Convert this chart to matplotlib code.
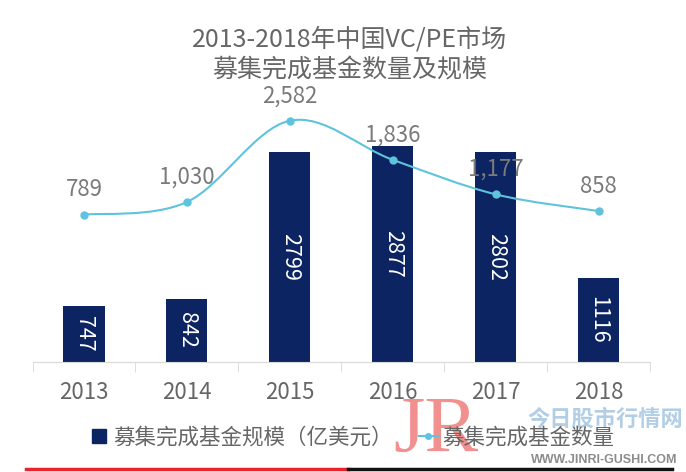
import matplotlib
matplotlib.use("Agg")
import matplotlib.pyplot as plt
import numpy as np
from matplotlib.path import Path
from matplotlib.patches import PathPatch
from matplotlib.lines import Line2D

plt.rcParams['font.family'] = ['Noto Sans CJK SC', 'DejaVu Sans']

years = ['2013', '2014', '2015', '2016', '2017', '2018']
fund_size = [747, 842, 2799, 2877, 2802, 1116]       # 亿美元
fund_count = [789, 1030, 2582, 1836, 1177, 858]
count_labels = ['789', '1,030', '2,582', '1,836', '1,177', '858']

title = '2013-2018年中国VC/PE市场\n募集完成基金数量及规模'
legend_bar = '募集完成基金规模（亿美元）'
legend_line = '募集完成基金数量'

navy = '#0c2461'
cyan = '#5ec3dd'
gray_txt = '#666666'
label_gray = '#7a7a7a'
LW = 'light'

fig = plt.figure(figsize=(6.86, 4.72), dpi=100)
W, H = 686, 472
ax_left, ax_right = 32.5, 650
ax_bottom, ax_top = 362, 20
ax = fig.add_axes([ax_left / W, 1 - ax_bottom / H, (ax_right - ax_left) / W, (ax_bottom - ax_top) / H])
ax2 = ax.twinx()

x = np.arange(len(years))
ax.bar(x, fund_size, width=0.4, color=navy, zorder=2)
ax.set_xlim(-0.5, len(years) - 0.5)
ax.set_ylim(0, (ax_bottom - ax_top) / 0.075)

for xi, v in zip(x, fund_size):
    ax.text(xi, v / 2, str(v), rotation=-90, ha='center', va='center',
            color='white', fontsize=15.5, fontweight=LW, zorder=5)

# secondary axis for count
y0_px = 256
scale2 = 0.0524
ax2.set_ylim(-(ax_bottom - y0_px) / scale2, (y0_px - ax_top) / scale2)

# smooth curve via cubic Bezier (Catmull-Rom control points)
px = list(x.astype(float))
py = list(map(float, fund_count))
verts = [(px[0], py[0])]
codes = [Path.MOVETO]
n = len(px)
for i in range(n - 1):
    p0 = (px[i - 1], py[i - 1]) if i > 0 else (px[i], py[i])
    p1 = (px[i], py[i])
    p2 = (px[i + 1], py[i + 1])
    p3 = (px[i + 2], py[i + 2]) if i + 2 < n else (px[i + 1], py[i + 1])
    c1 = (p1[0] + (p2[0] - p0[0]) / 6, p1[1] + (p2[1] - p0[1]) / 6)
    c2 = (p2[0] - (p3[0] - p1[0]) / 6, p2[1] - (p3[1] - p1[1]) / 6)
    verts += [c1, c2, p2]
    codes += [Path.CURVE4] * 3
ax2.add_patch(PathPatch(Path(verts, codes), facecolor='none', edgecolor=cyan, lw=1.5, zorder=3))
ax2.plot(x, fund_count, linestyle='none', marker='o', ms=5, color=cyan, zorder=4)

for xi, v, lab in zip(x, fund_count, count_labels):
    ax2.annotate(lab, (xi, v), xytext=(0, 18), textcoords='offset points',
                 ha='center', va='center', color=label_gray, fontsize=16, fontweight=LW)

for a in (ax, ax2):
    for s in ('top', 'right', 'left'):
        a.spines[s].set_visible(False)
    a.set_yticks([])
ax2.spines['bottom'].set_visible(False)
ax.spines['bottom'].set_color('#d9d9d9')
ax.set_xticks(x)
ax.set_xticklabels(years, fontsize=16, color=gray_txt, fontweight=LW)
ax.tick_params(axis='x', which='major', length=0, pad=14)
ax.set_xticks(np.arange(-0.5, len(years)), minor=True)
ax.tick_params(axis='x', which='minor', length=7, color='#d9d9d9')

fig.text(350 / W, 1 - 55 / H, title, ha='center', va='center', fontsize=18,
         color=gray_txt, linespacing=1.25, fontweight=LW)

handles = [Line2D([], [], linestyle='none', marker='s', ms=10, color=navy),
           Line2D([], [], color=cyan, marker='o', ms=4, lw=1.5)]
fig.legend(handles, [legend_bar, legend_line], loc='center', bbox_to_anchor=(352 / W, 1 - 438 / H),
           ncol=2, frameon=False, fontsize=15.5, labelcolor=gray_txt, handlelength=0.9,
           handletextpad=0.2, columnspacing=1.2, prop={'weight': LW, 'size': 15.5})

# bottom rule
fig.add_artist(Line2D([26 / W, 348 / W], [1 - 469 / H] * 2, color='#e8232a', lw=2.5))
fig.add_artist(Line2D([348 / W, 672 / W], [1 - 469 / H] * 2, color='#111111', lw=2.5))

# watermark
fig.text(436 / W, 1 - 432 / H, 'JR', ha='center', va='center', fontsize=58,
         family='Liberation Serif', color='#f07c7c', alpha=0.85)
fig.text(605 / W, 1 - 419 / H, '今日股市行情网', ha='center', va='center', fontsize=16,
         fontweight='bold', color='#a9c9e3', alpha=0.9)
fig.text(604 / W, 1 - 460 / H, 'WWW.JINRI-GUSHI.COM', ha='center', va='center', fontsize=9,
         fontweight='bold', color='#8c8c8c', family='Liberation Sans')

fig.savefig('out.png', dpi=100)
